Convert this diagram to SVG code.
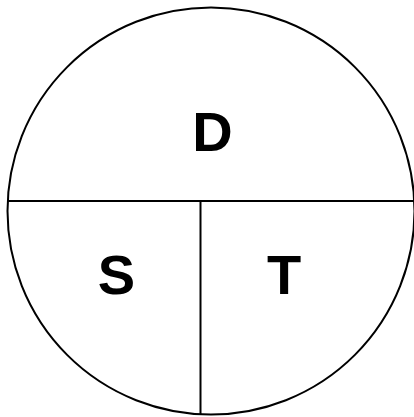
<svg xmlns="http://www.w3.org/2000/svg" width="414" height="417" viewBox="0 0 414 417">
<style>
.ln{fill:none;stroke:#000;stroke-width:2}
.lb{font-family:"Liberation Sans",Arial,sans-serif;font-weight:bold;font-size:56px;fill:#000;text-anchor:middle}
</style>
<rect width="414" height="417" fill="#fff"/>
<g id="connectors">
<circle class="ln" cx="211" cy="211" r="203.5"/>
<line class="ln" x1="7.5" y1="201" x2="414" y2="201"/>
<line class="ln" x1="200.5" y1="201" x2="200.5" y2="415"/>
</g>
<g id="D"><text class="lb" x="212.5" y="151">D</text></g>
<g id="S"><text class="lb" x="116.5" y="294">S</text></g>
<g id="T"><text class="lb" x="284" y="294">T</text></g>
</svg>
